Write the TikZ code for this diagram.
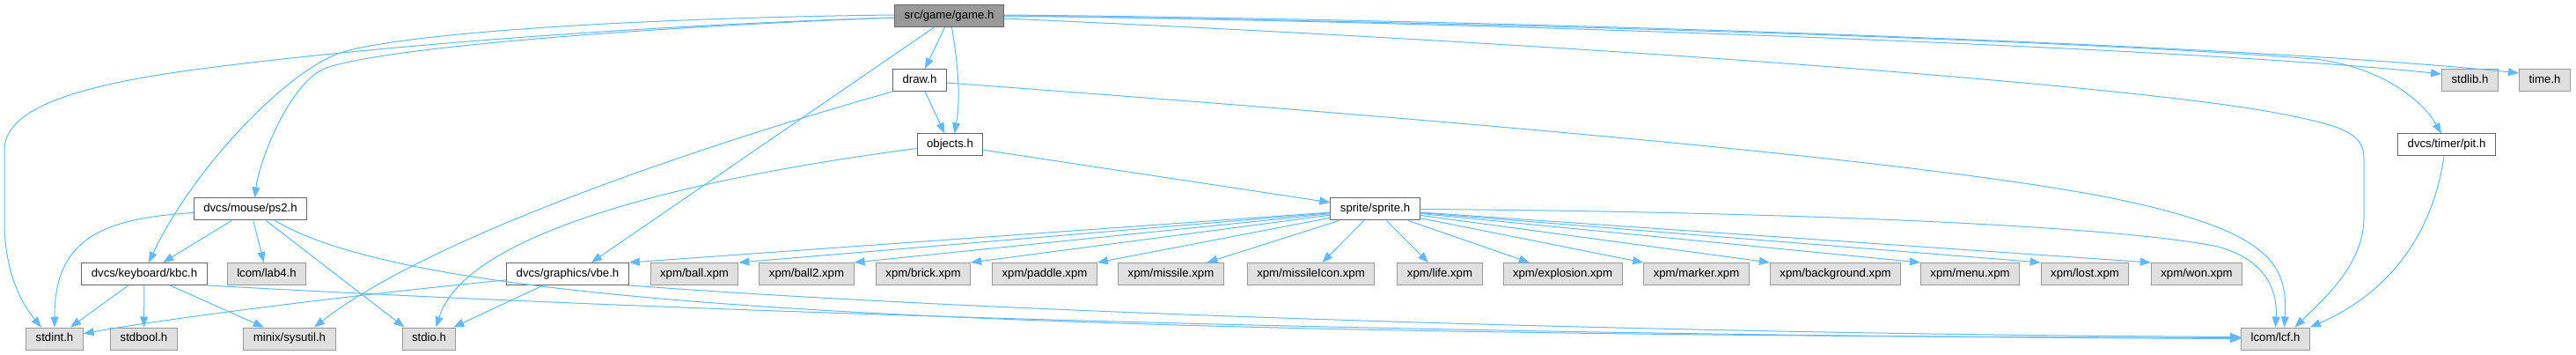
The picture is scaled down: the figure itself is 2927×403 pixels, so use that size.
\documentclass[tikz,border=0pt]{standalone}
\usepackage{fontspec}
\setmainfont{Liberation Sans}
\usetikzlibrary{arrows.meta}
\definecolor{edgeB}{RGB}{99,184,255}
\definecolor{boxD}{RGB}{102,102,102}
\definecolor{boxL}{RGB}{153,153,153}
\definecolor{boxF}{RGB}{224,224,224}

\begin{document}
\begin{tikzpicture}[x=1pt,y=-1pt,>={Triangle[length=12pt,width=9pt]},
  hbox/.style={draw=boxD,fill=white,line width=1pt,font=\fontsize{13.2}{15}\selectfont,inner xsep=11pt,inner ysep=0pt,minimum height=25pt,text height=9.5pt,text depth=2.8pt},
  xbox/.style={hbox,draw=boxL,fill=boxF},
  rootbox/.style={hbox,fill=boxL},
  dep/.style={->,edgeB,line width=1pt}]
\useasboundingbox (0,0) rectangle (2927,403);
\node[rootbox] (game) at (1078.5,18) {src/game/game.h};
\node[hbox] (draw) at (1045,91) {draw.h};
\node[hbox] (objects) at (1079.5,164.5) {objects.h};
\node[hbox] (ps2) at (284.5,237.5) {dvcs/mouse/ps2.h};
\node[hbox] (sprite) at (1562.5,237.5) {sprite/sprite.h};
\node[hbox] (pit) at (2780,164.5) {dvcs/timer/pit.h};
\node[xbox] (stdlib) at (2806.5,91) {stdlib.h};
\node[xbox] (time) at (2891.5,91) {time.h};
\node[hbox] (kbc) at (164,311) {dvcs/keyboard/kbc.h};
\node[xbox] (lab4) at (303,311) {lcom/lab4.h};
\node[hbox] (vbe) at (645,311) {dvcs/graphics/vbe.h};
\node[xbox] (ball) at (789,311) {xpm/ball.xpm};
\node[xbox] (ball2) at (916.5,311) {xpm/ball2.xpm};
\node[xbox] (brick) at (1049,311) {xpm/brick.xpm};
\node[xbox] (paddle) at (1187,311) {xpm/paddle.xpm};
\node[xbox] (missile) at (1330.5,311) {xpm/missile.xpm};
\node[xbox] (micon) at (1489.5,311) {xpm/missileIcon.xpm};
\node[xbox] (life) at (1636,311) {xpm/life.xpm};
\node[xbox] (expl) at (1775.5,311) {xpm/explosion.xpm};
\node[xbox] (marker) at (1927.5,311) {xpm/marker.xpm};
\node[xbox] (bkg) at (2085.5,311) {xpm/background.xpm};
\node[xbox] (menu) at (2238.5,311) {xpm/menu.xpm};
\node[xbox] (lost) at (2369,311) {xpm/lost.xpm};
\node[xbox] (won) at (2496,311) {xpm/won.xpm};
\node[xbox] (stdint) at (62,384.5) {stdint.h};
\node[xbox] (stdbool) at (163.5,384.5) {stdbool.h};
\node[xbox] (sysutil) at (329,384.5) {minix/sysutil.h};
\node[xbox] (stdio) at (487.5,384.5) {stdio.h};
\node[xbox] (lcf) at (2585.5,384.5) {lcom/lcf.h};

\draw[dep] ([xshift=-5pt]game.south) -- ([xshift=6pt]draw.north);
\draw[dep] ([xshift=3pt]game.south) .. controls (1088,70) and (1092,110) .. ([xshift=5pt]objects.north);
\draw[dep] ([xshift=-17pt]game.south) -- ([xshift=27pt]vbe.north);
\draw[dep] ([yshift=-2pt]game.west) .. controls (700,30) and (400,55) .. (214,80) .. controls (100,96) and (5,120) .. (5,170) -- (5,250) .. controls (5,310) and (25,345) .. ([xshift=-15pt]stdint.north);
\draw[dep] ([yshift=-2pt]game.west) .. controls (800,28) and (450,50) .. (371,77) .. controls (331,91) and (295,180) .. ([xshift=5pt]ps2.north);
\draw[dep] ([yshift=1pt]game.west) .. controls (750,20) and (480,35) .. (393,58) .. controls (330,75) and (220,190) .. ([xshift=5pt]kbc.north);
\draw[dep] ([yshift=1pt]game.east) .. controls (1700,22) and (2550,50) .. ([yshift=8pt]time.west);
\draw[dep] (game.east) .. controls (1700,25) and (2500,55) .. ([yshift=7pt]stdlib.west);
\draw[dep] (game.east) .. controls (1700,25) and (2350,45) .. (2630,67) .. controls (2700,75) and (2750,110) .. ([xshift=-6pt]pit.north);
\draw[dep] ([yshift=-3pt]game.east) .. controls (1800,50) and (2400,95) .. (2580,127) .. controls (2660,142) and (2686,150) .. (2686,180) -- (2686,247) .. controls (2686,300) and (2640,340) .. ([xshift=22pt]lcf.north);

\draw[dep] (draw) -- (objects);
\draw[dep] (draw.south west) .. controls (850,150) and (500,260) .. ([xshift=28pt]sysutil.north);
\draw[dep] ([yshift=-3pt]draw.east) .. controls (1700,140) and (2200,185) .. (2400,225) .. controls (2580,262) and (2600,300) .. ([xshift=10pt]lcf.north);

\draw[dep] (objects) -- (sprite);
\draw[dep] ([yshift=-4pt]objects.west) .. controls (800,200) and (530,260) .. ([xshift=8pt]stdio.north);

\draw[dep] ([yshift=-4pt]ps2.west) .. controls (110,248) and (62,275) .. (stdint.north);
\draw[dep] (ps2) -- (kbc);
\draw[dep] (ps2) -- (lab4);
\draw[dep] ([xshift=18pt]ps2.south) -- ([xshift=-28pt]stdio.north);
\draw[dep] ([xshift=28pt]ps2.south) .. controls (480,350) and (1100,380) .. ([yshift=1pt]lcf.west);

\draw[dep] (kbc) -- (stdint);
\draw[dep] (kbc) -- (stdbool);
\draw[dep] (kbc) -- (sysutil);
\draw[dep] (kbc.south east) .. controls (700,350) and (1500,380) .. (lcf.west);

\draw[dep] (vbe) .. controls (400,335) and (200,360) .. (stdint);
\draw[dep] (vbe) -- (stdio);
\draw[dep] (vbe.south east) .. controls (1200,360) and (2000,380) .. ([yshift=2pt]lcf.west);

\foreach \t in {vbe,ball,ball2,brick,paddle} \draw[dep] (sprite) -- (\t.north east);
\foreach \t in {missile,micon,life,expl} \draw[dep] (sprite) -- (\t);
\foreach \t in {marker,bkg,menu,lost,won} \draw[dep] (sprite) -- (\t.north west);
\draw[dep] (sprite.east) .. controls (2000,240) and (2400,255) .. (2520,280) .. controls (2575,295) and (2588,330) .. (lcf.north);

\draw[dep] ([xshift=-3pt]pit.south) .. controls (2765,260) and (2720,330) .. (lcf.north east);
\end{tikzpicture}
\end{document}
